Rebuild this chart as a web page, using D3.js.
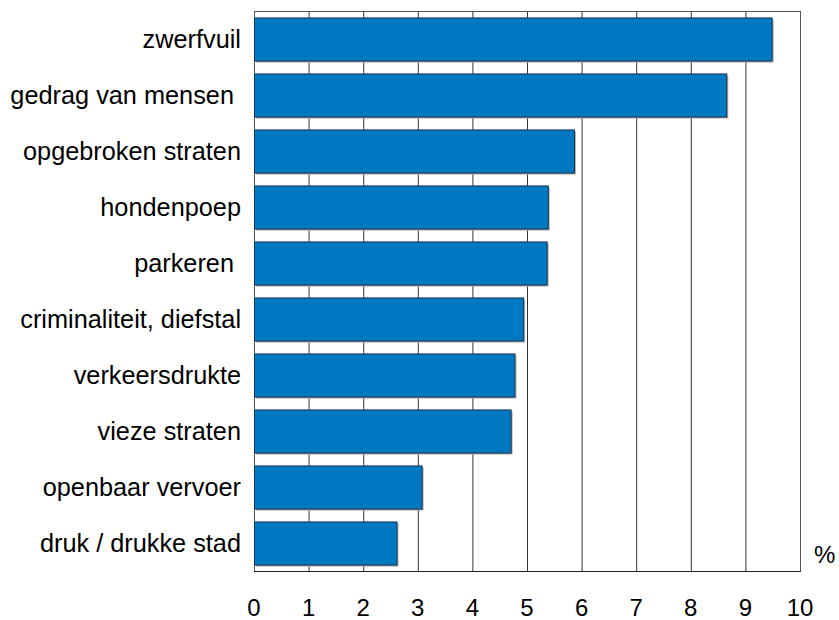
<!DOCTYPE html>
<html lang="nl">
<head>
  <meta charset="UTF-8" />
  <title>Ergernissen</title>
  <script src="https://d3js.org/d3.v7.min.js"></script>
  <style>
    body{margin:0;background:#fff}
    svg{display:block;font-family:"Liberation Sans",Arial,sans-serif}
    .lbl{white-space:pre}
  </style>
</head>
<body>
  <div id="chart"></div>
  <script>
    const categories = [
      "zwerfvuil", "gedrag van mensen ", "opgebroken straten", "hondenpoep", "parkeren ",
      "criminaliteit, diefstal", "verkeersdrukte", "vieze straten", "openbaar vervoer", "druk / drukke stad"
    ];
    const values = [9.48, 8.65, 5.86, 5.38, 5.36, 4.93, 4.77, 4.70, 3.07, 2.61];
    const xTicks = [0, 1, 2, 3, 4, 5, 6, 7, 8, 9, 10];

    const W = 839, H = 620;
    const mLeft = 254, mRight = 800, mTop = 11, mBottom = 571;
    const BLUE = "#0079c2";

    const svg = d3.select("#chart").append("svg").attr("width", W).attr("height", H);

    const x = d3.scaleLinear().domain([0, 10]).range([mLeft, mRight]);
    const y = d3.scaleBand().domain(categories).range([mTop, mBottom]).paddingInner(0.23).paddingOuter(0.115);

    // gridlines
    svg.append("g").selectAll("line").data(xTicks.slice(1, -1)).enter().append("line")
      .attr("x1", d => x(d) + 0.5).attr("x2", d => x(d) + 0.5)
      .attr("y1", mTop).attr("y2", mBottom)
      .attr("stroke", "#333").attr("stroke-width", 1);

    // frame
    svg.append("rect").attr("x", mLeft + 0.5).attr("y", mTop + 0.5)
      .attr("width", mRight - mLeft).attr("height", mBottom - mTop)
      .attr("fill", "none").attr("stroke", "#555").attr("stroke-width", 1);
    svg.append("line").attr("x1", mLeft).attr("x2", mRight + 1).attr("y1", mBottom + 0.5).attr("y2", mBottom + 0.5)
      .attr("stroke", "#222");

    const rows = categories.map((c, i) => ({ cat: c, val: values[i] }));

    // shadows
    svg.append("g").selectAll("rect").data(rows).enter().append("rect")
      .attr("x", mLeft + 2).attr("y", d => y(d.cat) + 2)
      .attr("width", d => x(d.val) - mLeft).attr("height", y.bandwidth())
      .attr("fill", "#b0b0b0");

    // bars
    svg.append("g").selectAll("rect").data(rows).enter().append("rect")
      .attr("x", mLeft + 0.5).attr("y", d => y(d.cat) + 0.5)
      .attr("width", d => x(d.val) - mLeft).attr("height", y.bandwidth())
      .attr("fill", BLUE).attr("stroke", "#1d3550").attr("stroke-width", 1);

    // category labels
    svg.append("g").selectAll("text").data(categories).enter().append("text")
      .attr("class", "lbl")
      .attr("x", 241).attr("y", d => y(d) + y.bandwidth() / 2)
      .attr("dy", "0.35em").attr("text-anchor", "end")
      .attr("font-size", 25.3).attr("fill", "#000")
      .text(d => d);

    // x tick labels
    svg.append("g").selectAll("text").data(xTicks).enter().append("text")
      .attr("x", d => x(d)).attr("y", 616)
      .attr("text-anchor", "middle").attr("font-size", 24).attr("fill", "#000")
      .text(d => d);

    svg.append("text").attr("x", 814).attr("y", 563)
      .attr("font-size", 24).attr("fill", "#000").text("%");
  </script>
</body>
</html>
